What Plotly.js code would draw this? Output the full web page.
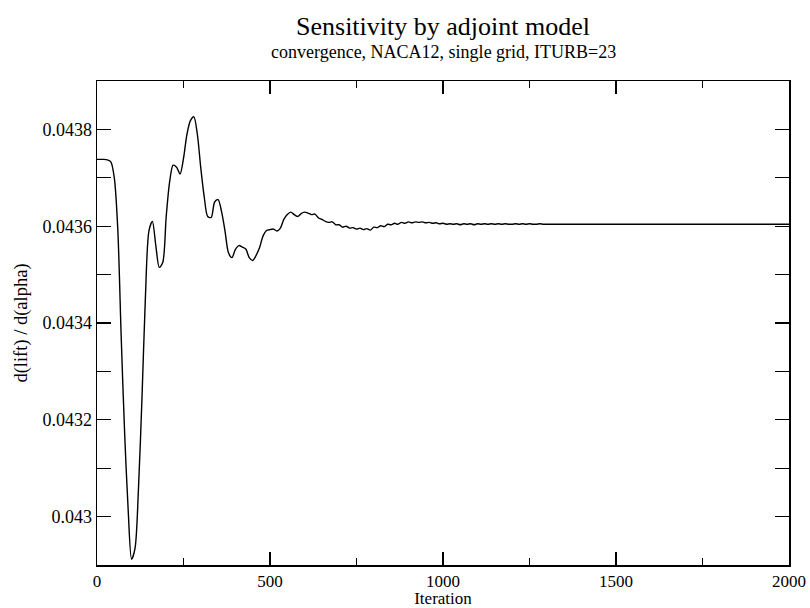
<!DOCTYPE html>
<html>
<head>
<meta charset="utf-8">
<script src="https://cdn.plot.ly/plotly-3.0.1.min.js"></script>
<style>html,body{margin:0;padding:0;background:#fff;}#chart{width:810px;height:608px;}</style>
</head>
<body>
<div id="chart"></div>
<script>
const iterations = [
  0,10,20,30,40,50,60,70,80,90,
  100,110,120,130,140,150,160,170,180,190,
  200,210,220,230,240,250,260,270,280,290,
  300,310,320,330,340,350,360,370,380,390,
  400,410,420,430,440,450,460,470,480,490,
  500,510,520,530,540,550,560,570,580,590,
  600,610,620,630,640,650,660,670,680,690,
  700,710,720,730,740,750,760,770,780,790,
  800,810,820,830,840,850,860,870,880,890,
  900,910,920,930,940,950,960,970,980,990,
  1000,1010,1020,1030,1040,1050,1060,1070,1080,1090,
  1100,1110,1120,1130,1140,1150,1160,1170,1180,1190,
  1200,1210,1220,1230,1240,1250,1260,1270,1280,1290,
  1300,1350,1400,1450,1500,1550,1600,1650,1700,1750,
  1800,1850,1900,1950,2000
];
const sensitivity = [
  0.043738,0.043738,0.043738,0.043737,0.043733,0.043700,0.043595,0.043370,0.043170,0.043015,
  0.042912,0.042935,0.043060,0.043245,0.043455,0.043590,0.043610,0.043560,0.043515,0.043525,
  0.043620,0.043692,0.043726,0.043722,0.043708,0.043740,0.043790,0.043818,0.043826,0.043790,
  0.043720,0.043660,0.043620,0.043618,0.043650,0.043655,0.043630,0.043590,0.043545,0.043535,
  0.043552,0.043560,0.043557,0.043553,0.043535,0.043529,0.043540,0.043556,0.043580,0.043591,
  0.043593,0.043594,0.043590,0.043596,0.043614,0.043624,0.043629,0.043624,0.043620,0.043626,
  0.043629,0.043627,0.043624,0.043625,0.043617,0.043614,0.043610,0.043608,0.043609,0.043603,
  0.043603,0.043598,0.043600,0.043596,0.043597,0.043594,0.043596,0.043593,0.043595,0.043592,
  0.043598,0.043597,0.043601,0.043599,0.043604,0.043603,0.043606,0.043604,0.043608,0.043606,
  0.043609,0.043607,0.043609,0.043608,0.043609,0.043607,0.043608,0.043606,0.043607,0.043605,
  0.043606,0.043604,0.043605,0.043604,0.043605,0.043603,0.043605,0.043604,0.043605,0.043603,
  0.043605,0.043604,0.043605,0.043604,0.043605,0.043604,0.043605,0.043604,0.043605,0.043604,
  0.043604,0.043605,0.043604,0.043605,0.043604,0.043605,0.043604,0.043604,0.043605,0.043604,
  0.043604,0.043604,0.043604,0.043604,0.043604,0.043604,0.043604,0.043604,0.043604,0.043604,
  0.043604,0.043604,0.043604,0.043604,0.043604
];
const titleText = 'Sensitivity by adjoint model';
const subtitleText = 'convergence, NACA12, single grid, ITURB=23';
const xTitle = 'Iteration';
const yTitle = 'd(lift) / d(alpha)';

const serif = '"Liberation Serif", "DejaVu Serif", serif';

const trace = {
  x: iterations,
  y: sensitivity,
  type: 'scatter',
  mode: 'lines',
  line: {color: '#000', width: 1.4, shape: 'spline', smoothing: 0.8},
  hoverinfo: 'skip'
};

const layout = {
  width: 810, height: 608,
  paper_bgcolor: '#fff', plot_bgcolor: '#fff',
  margin: {l: 97, r: 21, t: 81, b: 43},
  showlegend: false,
  font: {family: serif, color: '#000', size: 18},
  title: {
    text: titleText,
    font: {family: serif, size: 26, color: '#000'},
    x: 0.5, xref: 'paper', xanchor: 'center',
    y: 1 - 26/608, yref: 'container', yanchor: 'middle'
  },
  annotations: [{
    text: subtitleText, showarrow: false,
    xref: 'paper', yref: 'paper', x: 0.5, y: 1 + (81-52)/484,
    xanchor: 'center', yanchor: 'middle',
    font: {family: serif, size: 18, color: '#000'}
  }],
  xaxis: {
    range: [0, 2000], dtick: 500, tick0: 0,
    ticks: 'inside', ticklen: 13, tickwidth: 1.2, tickcolor: '#000',
    minor: {dtick: 250, ticks: 'inside', ticklen: 7, tickwidth: 1.2, tickcolor: '#000', showgrid: false},
    showline: true, linecolor: '#000', linewidth: 1.5, mirror: 'allticks',
    showgrid: false, zeroline: false,
    tickfont: {family: serif, size: 17, color: '#000'},
    title: {text: xTitle, font: {family: serif, size: 17, color: '#000'}, standoff: 6}
  },
  yaxis: {
    range: [0.0429, 0.0439], dtick: 0.0002, tick0: 0.043,
    ticks: 'inside', ticklen: 14, tickwidth: 1.2, tickcolor: '#000',
    minor: {dtick: 0.0001, ticks: 'inside', ticklen: 14, tickwidth: 1.2, tickcolor: '#000', showgrid: false},
    showline: true, linecolor: '#000', linewidth: 1.5, mirror: 'allticks',
    showgrid: false, zeroline: false,
    tickfont: {family: serif, size: 18, color: '#000'},
    title: {text: yTitle, font: {family: serif, size: 18.5, color: '#000'}, standoff: 10}
  }
};

Plotly.newPlot('chart', [trace], layout, {displayModeBar: false, staticPlot: true});
</script>
</body>
</html>
